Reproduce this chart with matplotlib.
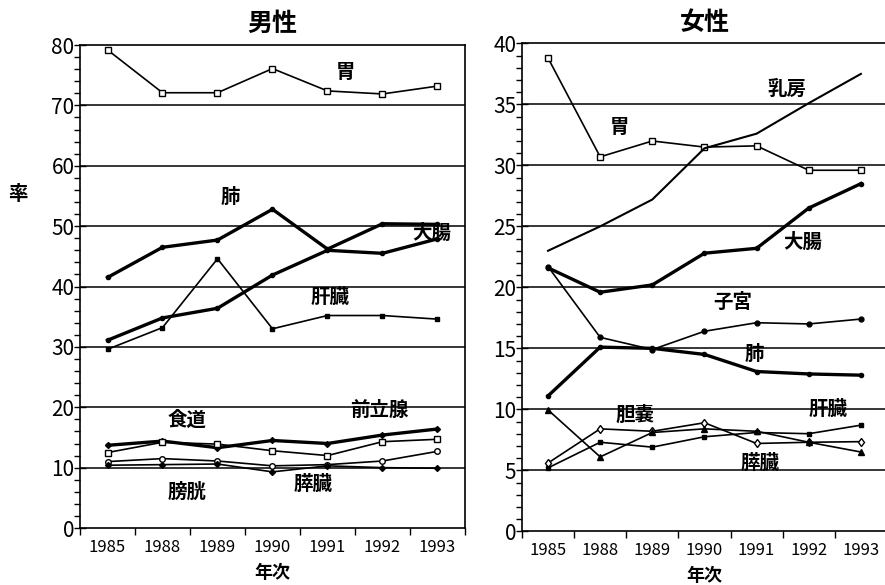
import matplotlib
matplotlib.use("Agg")
import matplotlib.pyplot as plt
from matplotlib.ticker import MultipleLocator, FixedLocator

plt.rcParams['font.family'] = ['Noto Sans CJK JP', 'DejaVu Sans']

years = ['1985', '1988', '1989', '1990', '1991', '1992', '1993']

# 男性
m_stomach = [79.2, 72.1, 72.1, 76.1, 72.4, 71.9, 73.2]
m_lung = [41.5, 46.5, 47.7, 52.8, 46.2, 50.4, 50.3]
m_colon = [31.1, 34.8, 36.4, 41.9, 46.0, 45.5, 47.9]
m_liver = [29.6, 33.2, 44.6, 33.0, 35.2, 35.2, 34.6]
m_prostate = [13.7, 14.4, 13.3, 14.5, 14.0, 15.4, 16.4]
m_esophagus = [12.5, 14.2, 13.9, 12.8, 12.0, 14.3, 14.7]
m_bladder = [11.0, 11.5, 11.1, 10.3, 10.5, 11.1, 12.7]
m_pancreas = [10.4, 10.5, 10.6, 9.3, 10.3, 10.0, 9.9]

# 女性
f_stomach = [38.8, 30.7, 32.0, 31.5, 31.6, 29.6, 29.6]
f_breast = [23.0, 25.0, 27.2, 31.4, 32.6, 35.1, 37.5]
f_colon = [21.6, 19.6, 20.2, 22.8, 23.2, 26.5, 28.5]
f_uterus = [21.7, 15.9, 14.9, 16.4, 17.1, 17.0, 17.4]
f_lung = [11.1, 15.1, 15.0, 14.5, 13.1, 12.9, 12.8]
f_gallbladder = [5.6, 8.4, 8.2, 8.9, 7.2, 7.3, 7.35]
f_liver = [5.2, 7.3, 6.9, 7.75, 8.1, 8.0, 8.7]
f_pancreas = [9.95, 6.1, 8.1, 8.4, 8.2, 7.3, 6.5]

x = list(range(len(years)))

fig = plt.figure(figsize=(8.85, 5.85), dpi=100)
ax1 = fig.add_axes([0.0904, 0.0974, 0.435, 0.8256])
ax2 = fig.add_axes([0.5898, 0.0918, 0.4124, 0.834])

thick = 2.4
thin = 1.2


def setup(ax, ymax, major, minor, title):
    ax.set_xlim(-0.5, 6.5)
    ax.set_ylim(0, ymax)
    for g in range(major, ymax, major):
        ax.axhline(g, color='black', lw=1.1, zorder=1)
    ax.yaxis.set_major_locator(MultipleLocator(major))
    ax.yaxis.set_minor_locator(MultipleLocator(minor))
    ax.tick_params(axis='y', which='major', direction='inout', length=8, labelsize=15, width=1, pad=0)
    ax.tick_params(axis='y', which='minor', direction='out', length=4, width=1)
    ax.set_xticks(x)
    ax.set_xticklabels(years, fontsize=12)
    ax.tick_params(axis='x', which='major', length=0, pad=8)
    ax.xaxis.set_minor_locator(FixedLocator([i - 0.5 for i in range(len(years) + 1)]))
    ax.tick_params(axis='x', which='minor', direction='out', length=5, width=1)
    ax.set_xlabel('年次', fontsize=13, fontweight='bold', labelpad=5)
    ax.set_title(title, fontsize=18, fontweight='bold', pad=10)
    for s in ax.spines.values():
        s.set_linewidth(1.2)


setup(ax1, 80, 10, 2, '男性')
setup(ax2, 40, 5, 1, '女性')
ax1.set_ylabel('率', rotation=0, fontsize=14, fontweight='bold', va='center')
ax1.yaxis.set_label_coords(-0.16, 0.69)

k = dict(color='black', zorder=3)
ax1.plot(x, m_stomach, lw=thin, marker='s', ms=4, mfc='white', **k)
ax1.plot(x, m_lung, lw=thick, marker='o', ms=3, **k)
ax1.plot(x, m_colon, lw=thick, marker='o', ms=3, **k)
ax1.plot(x, m_liver, lw=thin, marker='s', ms=3.5, **k)
ax1.plot(x, m_prostate, lw=thick, marker='D', ms=3, **k)
ax1.plot(x, m_esophagus, lw=thin, marker='s', ms=4, mfc='white', **k)
ax1.plot(x, m_bladder, lw=thin, marker='o', ms=4, mfc='white', **k)
ax1.plot(x, m_pancreas, lw=thin, marker='D', ms=3, **k)

ax2.plot(x, f_stomach, lw=thin, marker='s', ms=4, mfc='white', **k)
ax2.plot(x, f_breast, lw=1.5, **k)
ax2.plot(x, f_colon, lw=thick, marker='o', ms=3, **k)
ax2.plot(x, f_uterus, lw=thin, marker='o', ms=3.5, **k)
ax2.plot(x, f_lung, lw=thick, marker='o', ms=3, **k)
ax2.plot(x, f_gallbladder, lw=thin, marker='d', ms=4.5, mfc='white', **k)
ax2.plot(x, f_liver, lw=thin, marker='s', ms=3.5, **k)
ax2.plot(x, f_pancreas, lw=thin, marker='^', ms=4, **k)

lab = dict(fontsize=14, fontweight='bold', ha='center', va='center', zorder=4)
ax1.text(4.32, 75.5, '胃', **lab)
ax1.text(2.23, 54.8, '肺', **lab)
ax1.text(5.9, 48.8, '大腸', **lab)
ax1.text(4.05, 38.2, '肝臓', **lab)
ax1.text(1.45, 17.9, '食道', **lab)
ax1.text(4.95, 19.5, '前立腺', **lab)
ax1.text(1.45, 6.0, '膀胱', **lab)
ax1.text(3.74, 7.3, '膵臓', **lab)

ax2.text(4.58, 36.2, '乳房', **lab)
ax2.text(1.38, 33.1, '胃', **lab)
ax2.text(4.89, 23.7, '大腸', **lab)
ax2.text(3.54, 18.8, '子宮', **lab)
ax2.text(3.96, 14.5, '肺', **lab)
ax2.text(1.66, 9.5, '胆嚢', **lab)
ax2.text(5.37, 9.95, '肝臓', **lab)
ax2.text(4.06, 5.6, '膵臓', **lab)

fig.savefig('out.png', dpi=100)
